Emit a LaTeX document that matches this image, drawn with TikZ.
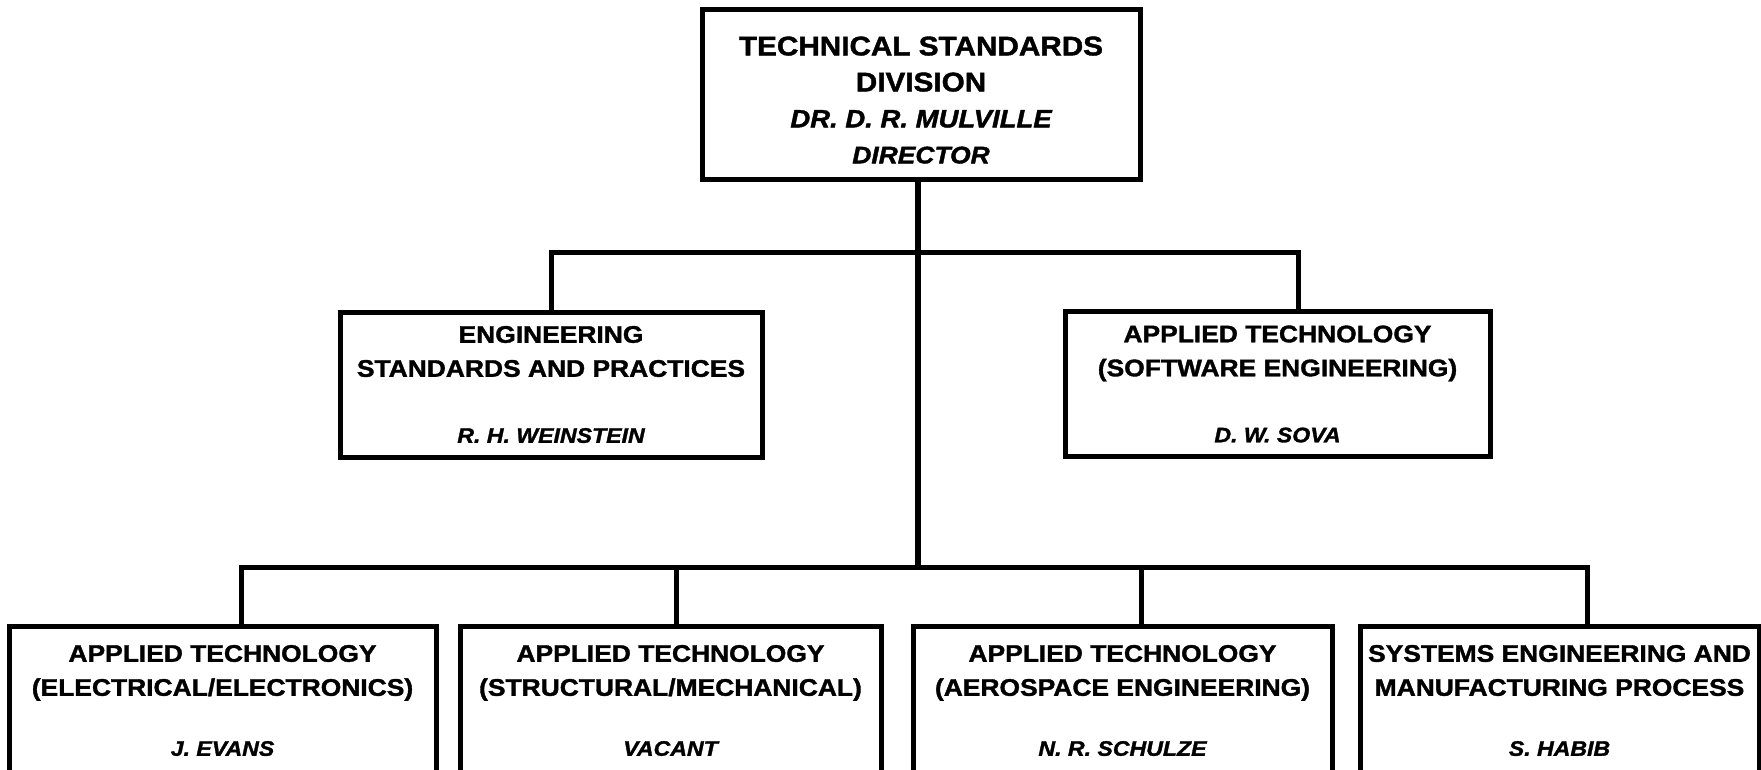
\documentclass[tikz,border=0pt]{standalone}
\usepackage{fontspec}
\setmainfont{Liberation Sans}[FakeStretch=1.1, BoldFeatures={FakeBold=1.5}, BoldItalicFeatures={FakeBold=1.5}]
\usetikzlibrary{calc}

\newcommand{\who}[2][10.5]{{\itshape\fontsize{#1}{#1}\selectfont #2}}

\tikzset{
  orgbox/.style={draw, line width=2.5pt, inner sep=0pt, align=center,
    font=\bfseries\fontsize{12}{17}\selectfont},
  midbox/.style={orgbox, minimum height=72.5pt},
  lowbox/.style={orgbox, minimum height=74.5pt},
  link/.style={line width=2.5pt}
}

\begin{document}
\begin{tikzpicture}[x=0.5pt,y=-0.5pt]
\useasboundingbox (0,0) rectangle (1761,770);
\clip (0,0) rectangle (1761,770);

\node[orgbox, font=\bfseries\fontsize{13.5}{18}\selectfont,
  minimum width=219pt, minimum height=85pt] (div) at (921,95)
  {\rule{0pt}{14.5pt}TECHNICAL STANDARDS\\DIVISION\\\who[12.5]{DR. D. R. MULVILLE}\\\who[12]{DIRECTOR}};

\node[midbox, minimum width=211pt] (esp) at (551,384.5)
  {ENGINEERING\\STANDARDS AND PRACTICES\\[16pt]\who{R. H. WEINSTEIN}};
\node[midbox, minimum width=212.5pt] (ase) at (1277.5,384)
  {APPLIED TECHNOLOGY\\(SOFTWARE ENGINEERING)\\[16pt]\who{D. W. SOVA}};

\node[lowbox, minimum width=213.5pt] (ee) at (222.5,700.5)
  {APPLIED TECHNOLOGY\\(ELECTRICAL/ELECTRONICS)\\[13pt]\who{J. EVANS}};
\node[lowbox, minimum width=210.5pt] (sm) at (670.5,700.5)
  {APPLIED TECHNOLOGY\\(STRUCTURAL/MECHANICAL)\\[13pt]\who{VACANT}};
\node[lowbox, minimum width=209.5pt] (ae) at (1122.5,700.5)
  {APPLIED TECHNOLOGY\\(AEROSPACE ENGINEERING)\\[13pt]\who{N. R. SCHULZE}};
\node[lowbox, minimum width=199.5pt] (mp) at (1559.5,700.5)
  {SYSTEMS ENGINEERING AND\\MANUFACTURING PROCESS\\[13pt]\who{S. HABIB}};

\coordinate (bus1) at (918,253);
\coordinate (bus2) at (918,567);
\coordinate (ase-in) at ($(ase.north)+(20.5,0)$);
\coordinate (ee-in) at ($(ee.north)+(18.5,0)$);
\coordinate (sm-in) at ($(sm.north)+(5.5,0)$);
\coordinate (ae-in) at ($(ae.north)+(18.5,0)$);
\coordinate (mp-in) at ($(mp.north)+(27.5,0)$);

\draw[link, line width=3pt] (div.south -| bus1) -- (bus2);
\draw[link] (esp.north) |- (bus1) -| (ase-in);
\draw[link] (ee-in) |- (bus2) -| (mp-in);
\draw[link] (sm-in) -- (sm-in |- bus2);
\draw[link] (ae-in) -- (ae-in |- bus2);
\end{tikzpicture}
\end{document}
